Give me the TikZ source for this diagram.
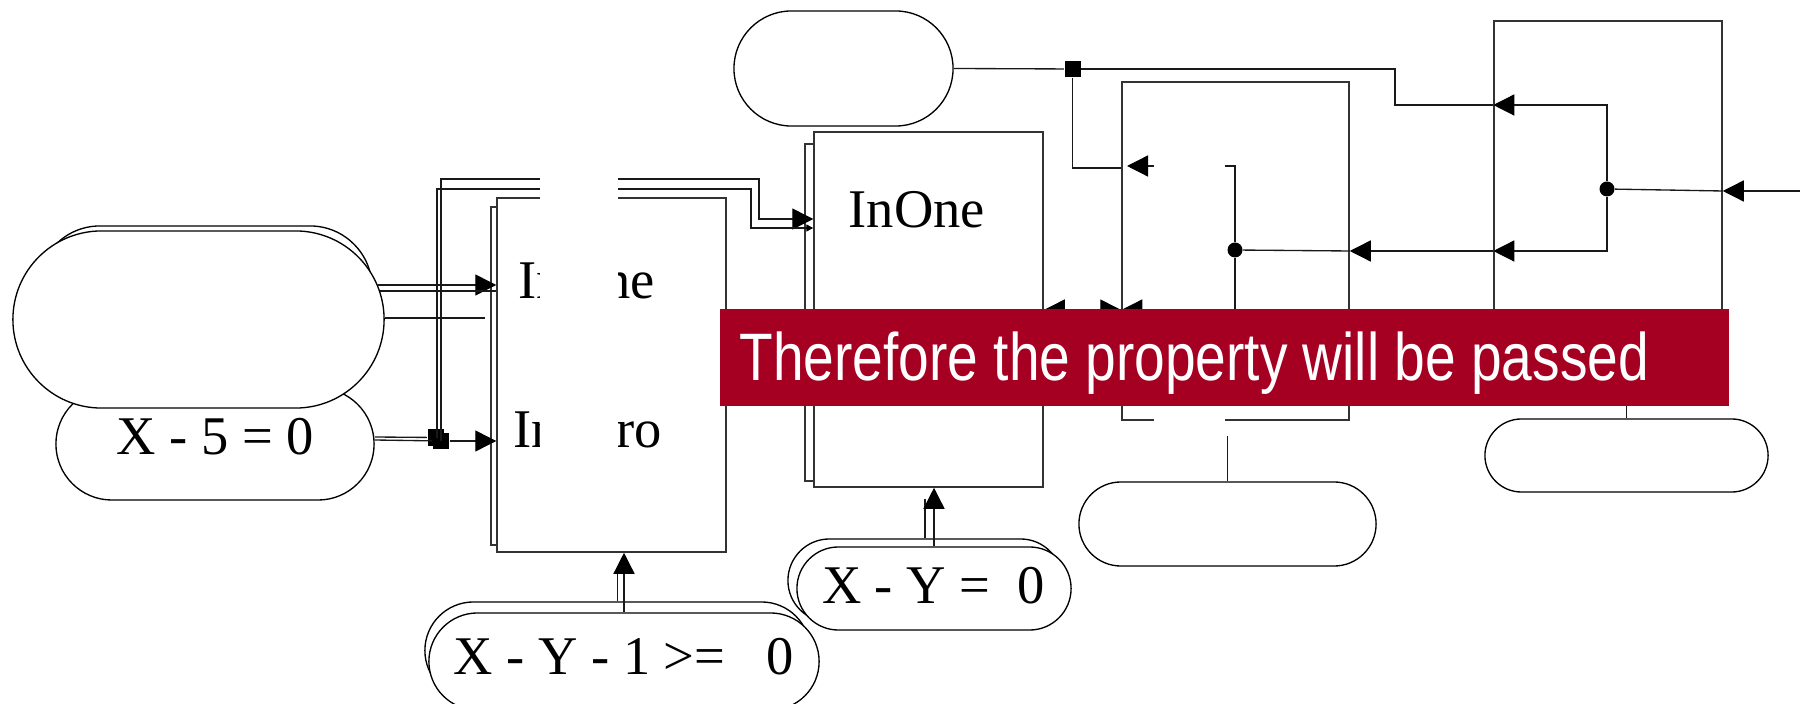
\documentclass[tikz,border=0pt]{standalone}
\usepackage{fontspec}
\setmainfont{Liberation Serif}
\newfontfamily\bannerfont{Liberation Sans}
\usepackage{graphicx}
\usetikzlibrary{arrows.meta,shapes.misc,positioning,calc}
\definecolor{bannerred}{RGB}{165,0,33}
\tikzset{
  wire/.style={line width=0.38pt, black!90},
  flow/.style={wire, -{Triangle[length=0.21cm,width=0.21cm,black]}},
  smallflow/.style={wire, -{Triangle[length=0.07cm,width=0.07cm,black]}},
  pill/.style={rounded rectangle, draw, fill=white, line width=0.38pt, inner sep=0pt},
  block/.style={rectangle, draw=black!80, fill=white, line width=0.38pt, inner sep=0pt},
  junc/.style={rectangle, fill=black, inner sep=0pt, minimum size=0.16cm},
  joint/.style={circle, fill=black, inner sep=0pt, minimum size=0.15cm},
  eqn/.style={inner sep=0pt, font=\fontsize{15.5}{18}\selectfont},
  hide/.style={fill=white},
  banner/.style={rectangle, fill=bannerred, inner sep=0pt}
}

\begin{document}
\begin{tikzpicture}[x=0.01cm,y=-0.01cm]
  \useasboundingbox (0,0) rectangle (1800,704);
  % inputs on the left
  \node[pill, minimum width=3.18cm, minimum height=1.12cm] (xfive) at (215,444) {};
  \node[pill, minimum width=3.34cm, minimum height=1.24cm] (bigback) at (205,288) {};
  \node[pill, minimum width=3.71cm, minimum height=1.77cm] (bigfront) at (198.5,319.5) {};
  \node[eqn, anchor=base] (xfivetext) at (215,455) {X - 5 = 0};
  \node[junc] (sqa) at (435.5,437.5) {};
  \node[junc] (sqb) at (441,441) {};

  % blocks
  \node[block, minimum width=2.29cm, minimum height=3.38cm] (boxAback) at (605.5,376) {};
  \node[block, minimum width=2.29cm, minimum height=3.54cm] (boxA) at (611.5,375) {};
  \node[block, minimum width=2.29cm, minimum height=3.37cm] (boxBback) at (919.5,312.5) {};
  \node[block, minimum width=2.29cm, minimum height=3.55cm] (boxB) at (928.5,309.5) {};
  \node[block, minimum width=2.27cm, minimum height=3.38cm] (boxC) at (1235.5,251) {};
  \node[block, minimum width=2.28cm, minimum height=3.74cm] (boxD) at (1608,208) {};
  \node[eqn, anchor=base west] (inAone) at (518,299) {InOne};
  \node[eqn, anchor=base west] (inAzero) at (513,448) {InZero};
  \node[eqn, anchor=base west] (inBone) at (848,228) {InOne};

  % constraints below
  \node[pill, minimum width=2.74cm, minimum height=0.83cm] (xyback) at (925,580.5) {};
  \node[pill, minimum width=2.74cm, minimum height=0.83cm] (xy) at (934,588.5) {};
  \node[pill, minimum width=3.85cm, minimum height=0.97cm] (xyoneback) at (617.5,650.5) {};
  \node[pill, minimum width=3.90cm, minimum height=0.97cm] (xyone) at (624,661.5) {};
  \node[eqn, anchor=base] (xytext) at (933.5,604) {X - Y = \ 0};
  \node[eqn, anchor=base] (xyonetext) at (623.5,675) {X - Y - 1 >= \ \ 0};

  % right side
  \node[pill, minimum width=2.19cm, minimum height=1.15cm] (topcap) at (843.5,68.5) {};
  \node[pill, minimum width=2.97cm, minimum height=0.84cm] (midcap) at (1227.5,524) {};
  \node[pill, minimum width=2.83cm, minimum height=0.73cm] (rightcap) at (1626.5,455.5) {};
  \node[junc] (sqc) at (1072.5,69) {};
  \node[joint] (dotC) at (1235,250) {};
  \node[joint] (dotD) at (1607,189) {};

  % wiring, left half
  \draw[flow] (378,285) -- (boxA.west |- 0,285);
  \draw[wire] (380,291) -- (boxA.west |- 0,291);
  \draw[wire] (bigfront.east |- 0,318) -- (485,318);
  \draw[wire] (xfive.east |- 0,437) -- (sqa);
  \draw[wire] (xfive.east |- 0,440) -- (sqb);
  \draw[flow] (sqb) -- (boxA.west |- sqb);
  \draw[flow] (sqb.center) |- (759,179) |- (boxB.west |- 0,219);
  \draw[smallflow] (437,438) |- (751,189) |- (boxB.west |- 0,228);
  \draw[wire] (xyoneback.north) -- ++(0,-29);
  \draw[flow] (xyone.north) -- (xyone.north |- boxA.south);
  \draw[wire] (xyback.north) -- ++(0,-39);
  \draw[flow] (xy.north) -- (xy.north |- boxB.south);

  % wiring, right half
  \draw[wire] (topcap.east) -- (sqc);
  \draw[wire] (sqc) -| (1395,105) -- (boxD.west |- 0,105);
  \draw[wire] (sqc) |- (boxC.west |- 0,168);
  \draw[flow] (1154,166) -- (1127,166);
  \draw[flow] (1800,191) -- (boxD.east |- 0,191);
  \draw[wire] (boxD.east |- 0,191) -- (dotD);
  \draw[flow] (dotD) |- (boxD.west |- 0,105);
  \draw[flow] (dotD) |- (boxD.west |- 0,251);
  \draw[flow] (boxD.west |- 0,251) -- (boxC.east |- 0,251);
  \draw[wire] (boxC.east |- 0,251) -- (dotC);
  \draw[wire] (1225,166) -| (dotC);
  \draw[wire] (dotC) -- ++(0,80);
  \draw[flow] (1080,310) -- (boxB.east |- 0,310);
  \draw[flow] (1090,310) -- (boxC.west |- 0,310);
  \draw[flow] (1160,310) -- (boxC.west |- 0,310);
  \draw[wire] (midcap.north) -- ++(0,-45);
  \draw[wire] (rightcap.north) -- (rightcap.north |- boxD.south);

  % blanked parts
  \fill[hide] (540,170) rectangle (618,455);
  \fill[hide] (1154,150) rectangle (1225,432);

  % caption
  \node[banner, minimum width=10.09cm, minimum height=0.97cm, anchor=north west] (msgbox) at (719,308) {};
  \node[anchor=base west, inner sep=0pt, text=white, font=\bannerfont\fontsize{19.1}{22}\selectfont] (msg) at (739,381) {\scalebox{0.82}[1]{Therefore the property will be passed}};
\end{tikzpicture}
\end{document}
